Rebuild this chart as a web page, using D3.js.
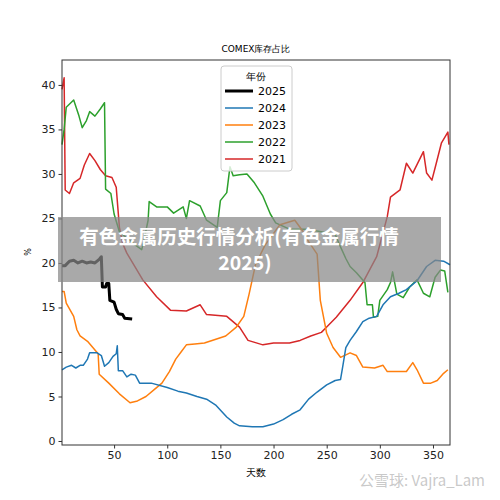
<!DOCTYPE html>
<html><head><meta charset="utf-8">
<script src="https://cdn.jsdelivr.net/npm/d3@7"></script>
<style>body{margin:0;background:#fff}</style>
</head><body><svg id="chart" width="500" height="500"></svg>
<script>
// days / value pairs
const s2025 = [[1,19.7],[4,19.7],[8,20.2],[12,20.3],[16,20.0],[20,20.2],[24,20.0],[28,20.1],[32,20.0],[36,20.4],[38,20.7],[39,17.3],[42,17.3],[43,17.7],[45,17.7],[46,15.8],[50,15.6],[52,14.8],[54,14.3],[58,14.2],[60,13.8],[67,13.7]];
const s2024 = [[1,8.0],[5,8.3],[10,8.5],[14,8.2],[18,8.5],[21,8.5],[25,9.2],[27,9.9],[34,9.9],[38,9.6],[41,8.4],[45,8.8],[49,9.5],[52,9.8],[53,10.7],[54,7.9],[58,7.9],[62,7.2],[66,7.5],[70,7.4],[74,6.5],[85,6.5],[100,6.0],[110,5.6],[118,5.4],[128,5.0],[137,4.7],[146,4.0],[156,2.7],[163,2.0],[168,1.7],[180,1.6],[190,1.6],[200,1.9],[209,2.4],[217,3.0],[225,3.5],[233,4.7],[241,5.5],[250,6.3],[258,6.8],[263,6.9],[265,8.3],[268,10.5],[272,11.3],[278,12.3],[284,13.4],[290,13.8],[297,14.0],[303,15.3],[310,16.2],[318,16.6],[325,17.0],[335,18.0],[344,19.6],[352,20.3],[360,20.2],[366,19.8]];
const s2023 = [[1,16.8],[3,16.8],[5,15.5],[12,14.0],[15,12.5],[18,11.8],[25,11.2],[30,10.5],[35,9.8],[36,7.5],[45,6.5],[55,5.3],[65,4.3],[72,4.5],[80,5.0],[88,5.8],[95,6.5],[102,7.8],[108,9.2],[113,10.0],[118,10.8],[126,10.9],[135,11.0],[145,11.4],[155,11.8],[165,12.8],[172,14.0],[177,16.5],[183,19.8],[192,22.0],[206,24.3],[220,24.8],[228,23.5],[233,22.4],[241,21.0],[244,15.8],[250,12.1],[256,10.5],[263,9.4],[272,9.9],[278,9.6],[284,8.3],[295,8.2],[303,8.5],[307,7.8],[316,7.8],[325,7.8],[331,8.8],[335,8.0],[341,6.5],[348,6.5],[354,6.8],[360,7.6],[364,8.0]];
const s2022 = [[1,33.3],[3,35.0],[5,37.5],[12,38.3],[17,36.5],[20,35.2],[24,36.0],[27,37.0],[32,36.5],[37,37.3],[41,38.0],[42,28.3],[47,27.8],[50,25.5],[55,23.5],[62,22.8],[70,22.0],[76,21.5],[78,22.5],[82,24.8],[83,26.9],[90,26.3],[100,26.3],[106,25.6],[115,26.3],[118,25.0],[121,27.0],[131,26.4],[137,24.8],[147,24.0],[150,27.0],[156,27.9],[159,30.8],[162,29.8],[168,29.9],[175,30.0],[182,29.0],[190,27.5],[197,25.5],[202,24.5],[215,23.8],[230,23.8],[245,23.5],[258,23.2],[263,21.8],[268,20.5],[272,19.6],[278,18.9],[286,17.8],[288,15.3],[293,15.3],[294,13.9],[298,14.0],[300,15.8],[307,17.0],[310,17.8],[312,19.0],[316,16.5],[322,16.1],[328,17.3],[335,18.1],[341,16.6],[347,16.2],[352,18.4],[357,19.2],[361,19.1],[364,16.7]];
const s2021 = [[1,39.5],[3,40.8],[4,28.2],[8,27.8],[12,29.0],[18,29.5],[22,31.0],[27,32.3],[32,31.5],[37,30.5],[42,29.8],[48,29.6],[52,28.5],[55,24.0],[58,22.2],[62,21.1],[70,19.5],[77,18.1],[90,16.2],[103,14.7],[118,14.6],[131,15.3],[137,14.2],[156,14.0],[168,12.8],[176,11.3],[190,10.8],[200,11.0],[215,11.0],[225,11.3],[235,11.8],[245,12.2],[250,12.8],[259,13.9],[272,15.8],[284,17.8],[297,20.7],[307,25.2],[310,27.4],[319,28.2],[325,31.2],[331,30.1],[341,32.5],[344,30.1],[349,29.3],[352,30.7],[358,33.5],[364,34.7],[365,33.3]];
const years = ["2025","2024","2023","2022","2021"];
const colors = ["#000000","#1f77b4","#ff7f0e","#2ca02c","#d62728"];
const seriesList = [s2025, s2024, s2023, s2022, s2021];
const xTicks = [50,100,150,200,250,300,350];
const yTicks = [0,5,10,15,20,25,30,35,40];

const svg = d3.select("#chart");
const L = 62, R = 450, T = 60, B = 445;
const x = d3.scaleLinear().domain([1,366]).range([L,R]);
const y = d3.scaleLinear().domain([-0.45,42.8]).range([B,T]);
const font = "DejaVu Sans, sans-serif";

// lines drawn in reverse so 2025 ends on top
const line = d3.line().x(d => x(d[0])).y(d => y(d[1]));
const g = svg.append("g");
for (let i = seriesList.length - 1; i >= 0; i--) {
  g.append("path").attr("d", line(seriesList[i])).attr("fill","none")
    .attr("stroke", colors[i]).attr("stroke-width", i === 0 ? 3 : 1.5)
    .attr("stroke-linejoin","round");
}

svg.append("rect").attr("x",L).attr("y",T).attr("width",R-L).attr("height",B-T)
  .attr("fill","none").attr("stroke","#333").attr("stroke-width",1);

const xa = svg.append("g").attr("transform",`translate(0,${B})`)
  .call(d3.axisBottom(x).tickValues(xTicks).tickSize(3.5).tickPadding(3));
const ya = svg.append("g").attr("transform",`translate(${L},0)`)
  .call(d3.axisLeft(y).tickValues(yTicks).tickSize(3.5).tickPadding(3));
[xa, ya].forEach(a => {
  a.select(".domain").remove();
  a.selectAll("text").attr("font-family",font).attr("font-size",11).attr("fill","#222");
  a.selectAll("line").attr("stroke","#333");
});

svg.append("text").attr("x",256).attr("y",52).attr("text-anchor","middle")
  .attr("font-family",font).attr("font-size",9).text("COMEX库存占比");
svg.append("text").attr("x",256).attr("y",476).attr("text-anchor","middle")
  .attr("font-family",font).attr("font-size",10).text("天数");
svg.append("text").attr("transform","translate(31,252) rotate(-90)").attr("text-anchor","middle")
  .attr("font-family",font).attr("font-size",8).text("%");

// legend
const lg = svg.append("g").attr("transform","translate(221,66)");
lg.append("rect").attr("width",71).attr("height",105).attr("rx",3)
  .attr("fill","#fff").attr("fill-opacity",0.8).attr("stroke","#ccc");
lg.append("text").attr("x",35).attr("y",14).attr("text-anchor","middle")
  .attr("font-family",font).attr("font-size",10).text("年份");
years.forEach((yr,i) => {
  const yy = 25 + i*17;
  lg.append("line").attr("x1",4).attr("x2",32).attr("y1",yy).attr("y2",yy)
    .attr("stroke",colors[i]).attr("stroke-width", i === 0 ? 3 : 1.5);
  lg.append("text").attr("x",37).attr("y",yy+4).attr("font-family",font)
    .attr("font-size",11).text(yr);
});

// overlay banner
svg.append("rect").attr("x",58).attr("y",217).attr("width",383).attr("height",65)
  .attr("fill","#888").attr("fill-opacity",0.72);
svg.append("text").attr("x",239).attr("y",244).attr("text-anchor","middle")
  .attr("font-family","Noto Sans CJK SC, sans-serif").attr("font-weight","bold")
  .attr("font-size",19.5).attr("fill","#fff").text("有色金属历史行情分析(有色金属行情");
svg.append("text").attr("x",245).attr("y",270).attr("text-anchor","middle")
  .attr("font-family","Noto Sans CJK SC, sans-serif").attr("font-weight","bold")
  .attr("font-size",19.5).attr("fill","#fff").text("2025)");

svg.append("text").attr("x",485).attr("y",486).attr("text-anchor","end")
  .attr("font-family","Noto Sans CJK SC, sans-serif").attr("font-size",15)
  .attr("fill","#bbb").attr("fill-opacity",0.8).text("公雪球: Vajra_Lam");
</script></body></html>
